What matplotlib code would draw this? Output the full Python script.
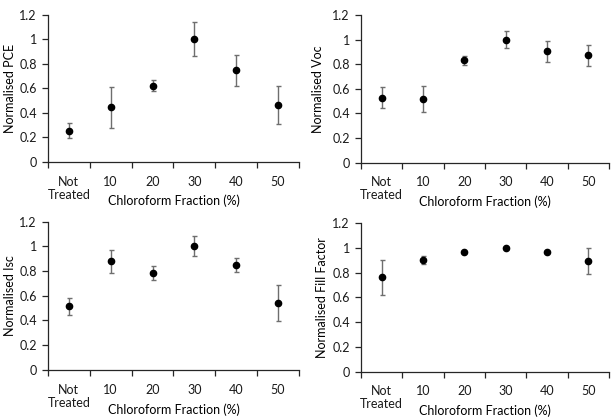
import matplotlib
matplotlib.use("Agg")
import matplotlib.pyplot as plt
import numpy as np

# Categories on the x axis
categories = ["Not\nTreated", "10", "20", "30", "40", "50"]

# Normalised values and symmetric error bars
pce = [0.254, 0.443, 0.620, 1.0, 0.746, 0.459]
pce_err = [0.060, 0.165, 0.045, 0.140, 0.125, 0.155]

voc = [0.528, 0.517, 0.833, 1.0, 0.906, 0.872]
voc_err = [0.083, 0.106, 0.037, 0.070, 0.084, 0.088]

isc = [0.514, 0.878, 0.785, 1.0, 0.848, 0.541]
isc_err = [0.070, 0.095, 0.058, 0.082, 0.057, 0.142]

ff = [0.761, 0.901, 0.966, 1.0, 0.969, 0.896]
ff_err = [0.140, 0.033, 0.005, 0.005, 0.005, 0.103]

y_ticks = [0, 0.2, 0.4, 0.6, 0.8, 1.0, 1.2]
y_tick_labels = ["0", "0.2", "0.4", "0.6", "0.8", "1", "1.2"]

plt.rcParams["font.family"] = ["Lato", "DejaVu Sans"]
plt.rcParams["font.size"] = 9
plt.rcParams["text.color"] = "#1a1a1a"
plt.rcParams["xtick.labelcolor"] = "#1a1a1a"
plt.rcParams["ytick.labelcolor"] = "#1a1a1a"

AXE_COL = "#262626"
ERR_COL = "#6e6e6e"

fig = plt.figure(figsize=(6.14, 4.18), dpi=100)

# (left, bottom, width, height) in figure fraction, measured on the reference
panneaux = [
    ([0.078, 0.613, 0.409, 0.352], pce, pce_err, "Normalised PCE", -0.151),
    ([0.588, 0.611, 0.404, 0.353], voc, voc_err, "Normalised Voc", -0.173),
    ([0.078, 0.115, 0.409, 0.355], isc, isc_err, "Normalised Isc", -0.151),
    ([0.588, 0.111, 0.404, 0.355], ff, ff_err, "Normalised Fill Factor", -0.157),
]

x = np.arange(len(categories))

for rect, vals, errs, ylabel, ylab_x in panneaux:
    ax = fig.add_axes(rect)
    ax.errorbar(x, vals, yerr=errs, fmt="o", color="black", markersize=4.5,
                ecolor=ERR_COL, elinewidth=1.0, capsize=1.8, capthick=1.0,
                zorder=3)
    ax.set_xlim(-0.5, len(categories) - 0.5)
    ax.set_ylim(0, 1.2)
    ax.set_yticks(y_ticks)
    ax.set_yticklabels(y_tick_labels)

    # category labels at centres, tick marks at the boundaries (Excel style)
    ax.set_xticks(x)
    ax.set_xticklabels(categories, va="top", linespacing=1.1)
    ax.set_xticks(np.arange(-0.5, len(categories)), minor=True)
    ax.tick_params(axis="x", which="major", length=0, pad=10)
    ax.tick_params(axis="x", which="minor", length=4, width=0.9, color=AXE_COL)
    ax.tick_params(axis="y", length=4, width=0.9, color=AXE_COL, pad=4)

    for side in ("top", "right"):
        ax.spines[side].set_visible(False)
    for side in ("left", "bottom"):
        ax.spines[side].set_color(AXE_COL)
        ax.spines[side].set_linewidth(0.9)

    ax.set_xlabel("Chloroform Fraction (%)")
    ax.xaxis.set_label_coords(0.5, -0.267)
    ax.xaxis.label.set_va("center")
    ax.set_ylabel(ylabel)
    ax.yaxis.set_label_coords(ylab_x, 0.5)
    ax.yaxis.label.set_va("center")

fig.savefig("out.png", dpi=100)
plt.close(fig)
